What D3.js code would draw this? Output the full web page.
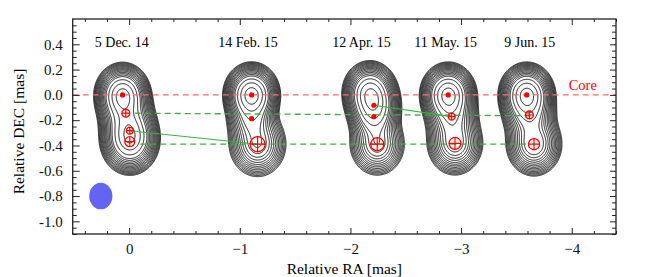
<!DOCTYPE html>
<html>
<head>
<meta charset="utf-8">
<script src="https://cdn.jsdelivr.net/npm/d3@7"></script>
<style>
  body { margin: 0; background: #fff; }
  svg text { font-family: "Liberation Serif", "Times New Roman", Times, serif; }
</style>
</head>
<body>
<div id="container"></div>
<script>
const width = 659;
const height = 277;
const marginTop = 19;
const marginRight = 43;
const marginBottom = 43;
const marginLeft = 72.7;
const serif = "Liberation Serif, Times New Roman, Times, serif";

// axes
const xDomain = [0.51, -4.4];
const yDomain = [-1.1, 0.6];
const xTicks = [0, -1, -2, -3, -4];
const yTicks = [0.4, 0.2, 0.0, -0.2, -0.4, -0.6, -0.8, -1.0];

// epochs
const epochNames = ["5 Dec. 14", "14 Feb. 15", "12 Apr. 15", "11 May. 15", "9 Jun. 15"];
const epochLabelX = [0.066, -1.075, -2.10, -2.86, -3.62];
const epochLabelY = 0.42;

// model-fit components (RA, DEC in mas, flux relative, FWHM size in mas)
const compEpoch  = [0, 0, 0, 0,   1, 1, 1,   2, 2, 2, 2,   3, 3, 3,   4, 4, 4];
const compX      = [0.060, 0.030, -0.006, -0.006,  -1.107, -1.107, -1.161,  -2.176, -2.212, -2.212, -2.242,  -2.884, -2.915, -2.945,  -3.593, -3.617, -3.659];
const compY      = [0.000, -0.145, -0.283, -0.370,  0.000, -0.188, -0.390,  0.020, -0.082, -0.172, -0.390,  0.000, -0.172, -0.383,  0.000, -0.159, -0.390];
const compFlux   = [1.0, 0.45, 0.5, 0.75,  1.0, 0.25, 0.35,  0.8, 0.5, 0.3, 0.35,  1.0, 0.35, 0.4,  1.0, 0.35, 0.45];
const compSize   = [0, 0.072, 0.063, 0.09,  0, 0, 0.136,  0, 0, 0, 0.118,  0, 0.063, 0.108,  0, 0.072, 0.10];
const compMarker = ["dot", "circle", "circle", "circle",  "dot", "dot", "circle",  "none", "dot", "dot", "circle",  "dot", "circle", "circle",  "dot", "circle", "circle"];

// restoring beam
const beamX = 0.256;
const beamY = -0.8;
const beamSize = 0.21;

// contour levels (fraction of peak)
const contourLevels = [0.013, 0.016, 0.02, 0.025, 0.031, 0.039, 0.049, 0.061, 0.076, 0.095, 0.12, 0.15, 0.19, 0.24, 0.36, 0.55, 0.8];

// core reference line and label
const coreY = 0;
const coreLabel = "Core";
const coreLabelX = -4.1;
const coreLabelY = 0.078;

// component tracks [x1, y1, x2, y2]
const dashedTracks = [[-0.05, -0.145, -3.65, -0.165], [-0.10, -0.39, -3.62, -0.39]];
const solidTracks = [[-0.006, -0.283, -1.161, -0.390], [-2.212, -0.082, -2.915, -0.172]];

const svg = d3.select("#container")
  .append("svg")
  .attr("width", width)
  .attr("height", height);

const x = d3.scaleLinear().domain(xDomain).range([marginLeft, width - marginRight]);
const y = d3.scaleLinear().domain(yDomain).range([height - marginBottom, marginTop]);

svg.append("clipPath").attr("id", "plot-clip")
  .append("rect")
  .attr("x", marginLeft).attr("y", marginTop)
  .attr("width", width - marginRight - marginLeft)
  .attr("height", height - marginBottom - marginTop);

const plot = svg.append("g").attr("clip-path", "url(#plot-clip)");

// build brightness grid from the components
const step = 0.005;
const nx = Math.round((xDomain[0] - xDomain[1]) / step) + 1;
const ny = Math.round((yDomain[1] - yDomain[0]) / step) + 1;
const values = new Float64Array(nx * ny);
const beamSigma = beamSize / 2.3548;

epochNames.forEach((name, e) => {
  const idx = d3.range(compEpoch.length).filter(i => compEpoch[i] === e);
  const field = new Float64Array(nx * ny);
  let peak = 0;
  for (let j = 0; j < ny; j++) {
    const yd = yDomain[1] - j * step;
    for (let i = 0; i < nx; i++) {
      const xd = xDomain[0] - i * step;
      let v = 0;
      for (const k of idx) {
        const cs = compSize[k] / 2.3548;
        const s2 = beamSigma * beamSigma + cs * cs;
        const dx = xd - compX[k], dy = yd - compY[k];
        v += compFlux[k] * (beamSigma * beamSigma / s2) * Math.exp(-(dx * dx + dy * dy) / (2 * s2));
      }
      field[j * nx + i] = v;
      if (v > peak) peak = v;
    }
  }
  for (let n = 0; n < field.length; n++) values[n] += field[n] / peak;
});

const contours = d3.contours().size([nx, ny]).thresholds(contourLevels)(values);

const gridPath = d3.geoPath(d3.geoTransform({
  point(gx, gy) {
    this.stream.point(x(xDomain[0] - (gx - 0.5) * step), y(yDomain[1] - (gy - 0.5) * step));
  }
}));

plot.append("g")
  .selectAll("path")
  .data(contours)
  .join("path")
  .attr("d", gridPath)
  .attr("fill", "none")
  .attr("stroke", "#000")
  .attr("stroke-width", 0.9);

// core line
plot.append("line")
  .attr("x1", x(xDomain[0])).attr("x2", x(xDomain[1]))
  .attr("y1", y(coreY)).attr("y2", y(coreY))
  .attr("stroke", "#ff6a6a")
  .attr("stroke-width", 1.2)
  .attr("stroke-dasharray", "6,4");

plot.selectAll(".dtrack")
  .data(dashedTracks)
  .join("line")
  .attr("class", "dtrack")
  .attr("x1", d => x(d[0])).attr("y1", d => y(d[1]))
  .attr("x2", d => x(d[2])).attr("y2", d => y(d[3]))
  .attr("stroke", "#3cb03c")
  .attr("stroke-width", 1.3)
  .attr("stroke-dasharray", "6,4");

plot.selectAll(".strack")
  .data(solidTracks)
  .join("line")
  .attr("class", "strack")
  .attr("x1", d => x(d[0])).attr("y1", d => y(d[1]))
  .attr("x2", d => x(d[2])).attr("y2", d => y(d[3]))
  .attr("stroke", "#3cb03c")
  .attr("stroke-width", 1.1);

// component markers
const comps = d3.range(compEpoch.length);

plot.selectAll(".dot")
  .data(comps.filter(i => compMarker[i] === "dot"))
  .join("circle")
  .attr("class", "dot")
  .attr("cx", i => x(compX[i]))
  .attr("cy", i => y(compY[i]))
  .attr("r", 2.6)
  .attr("fill", "#f00");

const ring = plot.selectAll(".ring")
  .data(comps.filter(i => compMarker[i] === "circle"))
  .join("g")
  .attr("class", "ring")
  .attr("transform", i => `translate(${x(compX[i])},${y(compY[i])})`);

const ringR = i => x(0) - x(compSize[i] / 2);

ring.append("circle")
  .attr("r", ringR)
  .attr("fill", "none")
  .attr("stroke", "#f00")
  .attr("stroke-width", 1.3);
ring.append("line")
  .attr("x1", i => -ringR(i)).attr("x2", i => ringR(i))
  .attr("stroke", "#f00").attr("stroke-width", 1.2);
ring.append("line")
  .attr("y1", i => -ringR(i)).attr("y2", i => ringR(i))
  .attr("stroke", "#f00").attr("stroke-width", 1.2);

// beam
plot.append("ellipse")
  .attr("cx", x(beamX)).attr("cy", y(beamY))
  .attr("rx", x(0) - x(beamSize / 2))
  .attr("ry", y(-beamSize / 2) - y(0))
  .attr("fill", "#6464f2");

// labels
svg.selectAll(".epoch")
  .data(epochNames)
  .join("text")
  .attr("class", "epoch")
  .attr("x", (d, i) => x(epochLabelX[i]))
  .attr("y", y(epochLabelY))
  .attr("dy", "0.35em")
  .attr("text-anchor", "middle")
  .attr("font-family", serif)
  .attr("font-size", 14)
  .text(d => d);

svg.append("text")
  .attr("x", x(coreLabelX)).attr("y", y(coreLabelY))
  .attr("dy", "0.35em")
  .attr("text-anchor", "middle")
  .attr("font-family", serif)
  .attr("font-size", 14.5)
  .attr("fill", "#f00")
  .text(coreLabel);

// axes
const xMinor = d3.range(0.4, -4.41, -0.2).filter(v => Math.abs(v - Math.round(v)) > 1e-6);
const yMinor = d3.range(0.55, -1.11, -0.05).filter(v => Math.abs(v * 5 - Math.round(v * 5)) > 1e-6);

function styleAxis(g) {
  g.attr("font-family", serif);
  g.select(".domain").remove();
  g.selectAll("line").attr("stroke", "#222");
  g.selectAll("text").attr("font-family", serif).attr("fill", "#111");
}

svg.append("g")
  .attr("transform", `translate(0,${height - marginBottom})`)
  .call(d3.axisBottom(x).tickValues(xTicks).tickSize(-6).tickPadding(9).tickFormat(d3.format("d")))
  .call(styleAxis)
  .call(g => g.selectAll("text").attr("font-size", 15));
svg.append("g")
  .attr("transform", `translate(0,${height - marginBottom})`)
  .call(d3.axisBottom(x).tickValues(xMinor).tickSize(-3).tickFormat(""))
  .call(styleAxis);
svg.append("g")
  .attr("transform", `translate(0,${marginTop})`)
  .call(d3.axisTop(x).tickValues(xTicks).tickSize(-6).tickFormat(""))
  .call(styleAxis);
svg.append("g")
  .attr("transform", `translate(0,${marginTop})`)
  .call(d3.axisTop(x).tickValues(xMinor).tickSize(-3).tickFormat(""))
  .call(styleAxis);

svg.append("g")
  .attr("transform", `translate(${marginLeft},0)`)
  .call(d3.axisLeft(y).tickValues(yTicks).tickSize(-7).tickPadding(10)
    .tickFormat(d => d3.format(".1f")(d).replace("\u2212", "-")))
  .call(styleAxis)
  .call(g => g.selectAll("text").attr("font-size", 15));
svg.append("g")
  .attr("transform", `translate(${marginLeft},0)`)
  .call(d3.axisLeft(y).tickValues(yMinor).tickSize(-4).tickFormat(""))
  .call(styleAxis);
svg.append("g")
  .attr("transform", `translate(${width - marginRight},0)`)
  .call(d3.axisRight(y).tickValues(yTicks).tickSize(-6).tickFormat(""))
  .call(styleAxis);
svg.append("g")
  .attr("transform", `translate(${width - marginRight},0)`)
  .call(d3.axisRight(y).tickValues(yMinor).tickSize(-4).tickFormat(""))
  .call(styleAxis);

svg.append("rect")
  .attr("x", marginLeft).attr("y", marginTop)
  .attr("width", width - marginRight - marginLeft)
  .attr("height", height - marginBottom - marginTop)
  .attr("fill", "none")
  .attr("stroke", "#222")
  .attr("stroke-width", 1.3);

svg.append("text")
  .attr("x", (marginLeft + width - marginRight) / 2)
  .attr("y", 274)
  .attr("text-anchor", "middle")
  .attr("font-family", serif)
  .attr("font-size", 15.5)
  .text("Relative RA [mas]");

svg.append("text")
  .attr("transform", `translate(19,${(marginTop + height - marginBottom) / 2 + 5}) rotate(-90)`)
  .attr("dy", "0.35em")
  .attr("text-anchor", "middle")
  .attr("font-family", serif)
  .attr("font-size", 15.5)
  .text("Relative DEC [mas]");
</script>
</body>
</html>
